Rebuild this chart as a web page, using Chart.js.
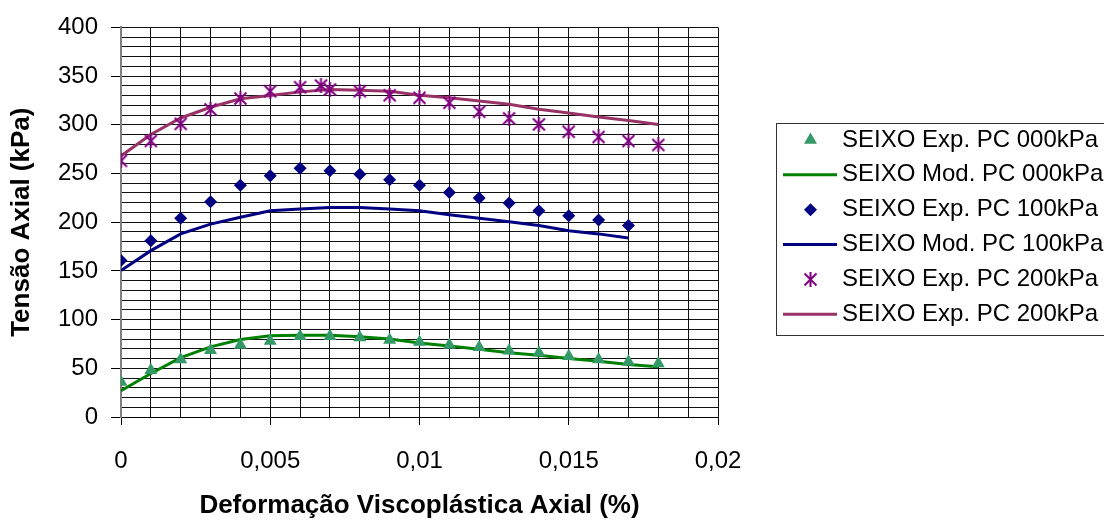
<!DOCTYPE html>
<html>
<head>
<meta charset="utf-8">
<script src="https://cdn.jsdelivr.net/npm/chart.js@4.4.1/dist/chart.umd.min.js"></script>
<style>
  html, body { margin: 0; padding: 0; background: #fff; }
  #wrap { width: 1104px; height: 521px; }
</style>
</head>
<body>
<div id="wrap"><canvas id="c" width="1104" height="521"></canvas></div>
<script>
// Strain (%) sampling points
const strain = [0, 0.001, 0.002, 0.003, 0.004, 0.005, 0.006, 0.007, 0.008, 0.009,
                0.010, 0.011, 0.012, 0.013, 0.014, 0.015, 0.016, 0.017, 0.018];
const strain100 = [0, 0.001, 0.002, 0.003, 0.004, 0.005, 0.006, 0.007, 0.008, 0.009,
                   0.010, 0.011, 0.012, 0.013, 0.014, 0.015, 0.016, 0.017];
const strainExp200 = [0, 0.001, 0.002, 0.003, 0.004, 0.005, 0.006, 0.0067, 0.007, 0.008,
                      0.009, 0.010, 0.011, 0.012, 0.013, 0.014, 0.015, 0.016, 0.017, 0.018];

// Axial stress (kPa)
const exp000 = [36, 48, 59, 68.5, 74, 78, 83, 83, 81.5, 79, 77, 74, 71.6, 68, 66, 62.4, 59, 56.6, 55];
const mod000 = [27, 44.7, 61, 72, 79.5, 83.5, 84, 84, 82.5, 80, 76, 73, 69.6, 66, 63.4, 60, 57.3, 54, 51.5];
const exp100 = [160.6, 181, 204, 221, 238, 247.6, 255.4, 252.7, 249.3, 243.5, 238, 230.5, 224.8,
                219.6, 211.8, 206.6, 202.2, 196.7];
const mod100 = [150.4, 170.8, 188, 198, 205, 211.8, 213.5, 215, 215, 213.5, 211.8, 207.7, 204,
                200.5, 196.7, 191.3, 188, 183.8];
const exp200 = [263, 283.4, 301, 315.8, 327, 334.5, 338.6, 340.3, 336.3, 334.5, 330.4, 327.7,
                322.6, 313.4, 306.6, 300.4, 292.9, 287.5, 283.4, 279.3];
const mod200 = [268, 290, 307, 318, 326.7, 330, 333.8, 336.3, 335.5, 334.5, 330.4, 327.7, 324.5,
                321, 316, 312, 308, 304.5, 300.4];

const seriesLabels = [
  'SEIXO Exp. PC 000kPa', 'SEIXO Mod. PC 000kPa',
  'SEIXO Exp. PC 100kPa', 'SEIXO Mod. PC 100kPa',
  'SEIXO Exp. PC 200kPa', 'SEIXO Exp. PC 200kPa'
];
const xTickLabels = ['0', '0,005', '0,01', '0,015', '0,02'];
const yTickLabels = ['0', '50', '100', '150', '200', '250', '300', '350', '400'];

const FONT = '"Liberation Sans", Arial, Helvetica, sans-serif';
const pairs = (xs, ys) => xs.map((x, i) => ({ x, y: ys[i] }));

// six-armed asterisk marker
function asteriskMarker(color) {
  const c = document.createElement('canvas');
  c.width = 15; c.height = 15;
  const g = c.getContext('2d');
  g.strokeStyle = color; g.lineWidth = 2; g.lineCap = 'butt';
  g.beginPath();
  g.moveTo(1.5, 1.5); g.lineTo(13.5, 13.5);
  g.moveTo(13.5, 1.5); g.lineTo(1.5, 13.5);
  g.moveTo(7.5, 0); g.lineTo(7.5, 15);
  g.stroke();
  return c;
}

const datasets = [
  { label: seriesLabels[0], data: pairs(strain, exp000), showLine: false,
    pointStyle: 'triangle', pointRadius: 7.5, backgroundColor: '#339966', borderColor: '#339966', borderWidth: 0 },
  { label: seriesLabels[1], data: pairs(strain, mod000), showLine: true, pointRadius: 0,
    borderColor: '#008000', backgroundColor: '#008000', borderWidth: 3, tension: 0 },
  { label: seriesLabels[2], data: pairs(strain100, exp100), showLine: false,
    pointStyle: 'rectRot', pointRadius: 6.5, backgroundColor: '#000080', borderColor: '#000080', borderWidth: 0 },
  { label: seriesLabels[3], data: pairs(strain100, mod100), showLine: true, pointRadius: 0,
    borderColor: '#000080', backgroundColor: '#000080', borderWidth: 3, tension: 0 },
  { label: seriesLabels[4], data: pairs(strainExp200, exp200), showLine: false,
    pointStyle: asteriskMarker('#800080'), pointRadius: 7, backgroundColor: '#800080', borderColor: '#800080', borderWidth: 0 },
  { label: seriesLabels[5], data: pairs(strain, mod200), showLine: true, pointRadius: 0,
    borderColor: '#993366', backgroundColor: '#993366', borderWidth: 3, tension: 0 }
];

// framed legend at the right of the plot
const boxLegend = {
  id: 'boxLegend',
  afterDraw(chart) {
    const ctx = chart.ctx;
    ctx.save();
    ctx.strokeStyle = '#333';
    ctx.lineWidth = 1;
    ctx.strokeRect(776.5, 123.5, 360, 212);
    ctx.font = '24px ' + FONT;
    ctx.textBaseline = 'middle';
    ctx.textAlign = 'left';
    chart.data.datasets.forEach((ds, i) => {
      const y = 140 + i * 34.85;
      if (ds.showLine) {
        ctx.strokeStyle = ds.borderColor;
        ctx.lineWidth = ds.borderWidth;
        ctx.beginPath();
        ctx.moveTo(783, y); ctx.lineTo(837, y);
        ctx.stroke();
      } else {
        ctx.fillStyle = ds.backgroundColor;
        ctx.strokeStyle = ds.borderColor;
        Chart.helpers.drawPoint(ctx, { pointStyle: ds.pointStyle, radius: ds.pointRadius, borderWidth: 0, rotation: 0 }, 810.5, y);
      }
      ctx.fillStyle = '#000';
      ctx.fillText(ds.label, 842, y);
    });
    ctx.restore();
  }
};

const isMultiple = (v, step) => Math.abs(v / step - Math.round(v / step)) < 1e-6;

Chart.defaults.color = '#000';
Chart.defaults.font.family = FONT;

new Chart(document.getElementById('c'), {
  type: 'scatter',
  data: { datasets },
  options: {
    responsive: false,
    devicePixelRatio: 1,
    animation: false,
    layout: { padding: { top: 26, right: 386, left: 0, bottom: 0 } },
    plugins: { legend: { display: false }, tooltip: { enabled: false } },
    scales: {
      x: {
        type: 'linear', min: 0, max: 0.02,
        afterFit(s) { s.height = 104; },
        border: { display: true, color: '#000', width: 1 },
        grid: {
          color: '#111', lineWidth: 1, drawTicks: true, tickLength: 8,
          tickColor: (c) => (c.tick && isMultiple(c.tick.value, 0.005)) ? '#000' : 'rgba(0,0,0,0)'
        },
        ticks: {
          stepSize: 0.001, autoSkip: false, maxRotation: 0, padding: 22,
          font: { size: 24 },
          callback: (v) => isMultiple(v, 0.005) ? xTickLabels[Math.round(v / 0.005)] : ''
        },
        title: {
          display: true, text: 'Deformação Viscoplástica Axial (%)',
          font: { size: 26, weight: 'bold', lineHeight: 1.2 }, padding: { top: 0, bottom: 0 }
        }
      },
      y: {
        type: 'linear', min: 0, max: 400,
        afterFit(s) { s.width = 121; },
        border: { display: true, color: '#808080', width: 2 },
        grid: {
          color: '#111', lineWidth: 1, drawTicks: true, tickLength: 10,
          tickColor: (c) => (c.tick && isMultiple(c.tick.value, 50)) ? '#000' : 'rgba(0,0,0,0)'
        },
        ticks: {
          stepSize: 10, autoSkip: false, padding: 13,
          font: { size: 24 },
          callback: (v) => isMultiple(v, 50) ? yTickLabels[Math.round(v / 50)] : ''
        },
        title: {
          display: true, text: 'Tensão Axial (kPa)',
          font: { size: 26, weight: 'bold', lineHeight: 1.2 }, padding: { top: 6, bottom: 0 }
        }
      }
    }
  },
  plugins: [boxLegend]
});
</script>
</body>
</html>
